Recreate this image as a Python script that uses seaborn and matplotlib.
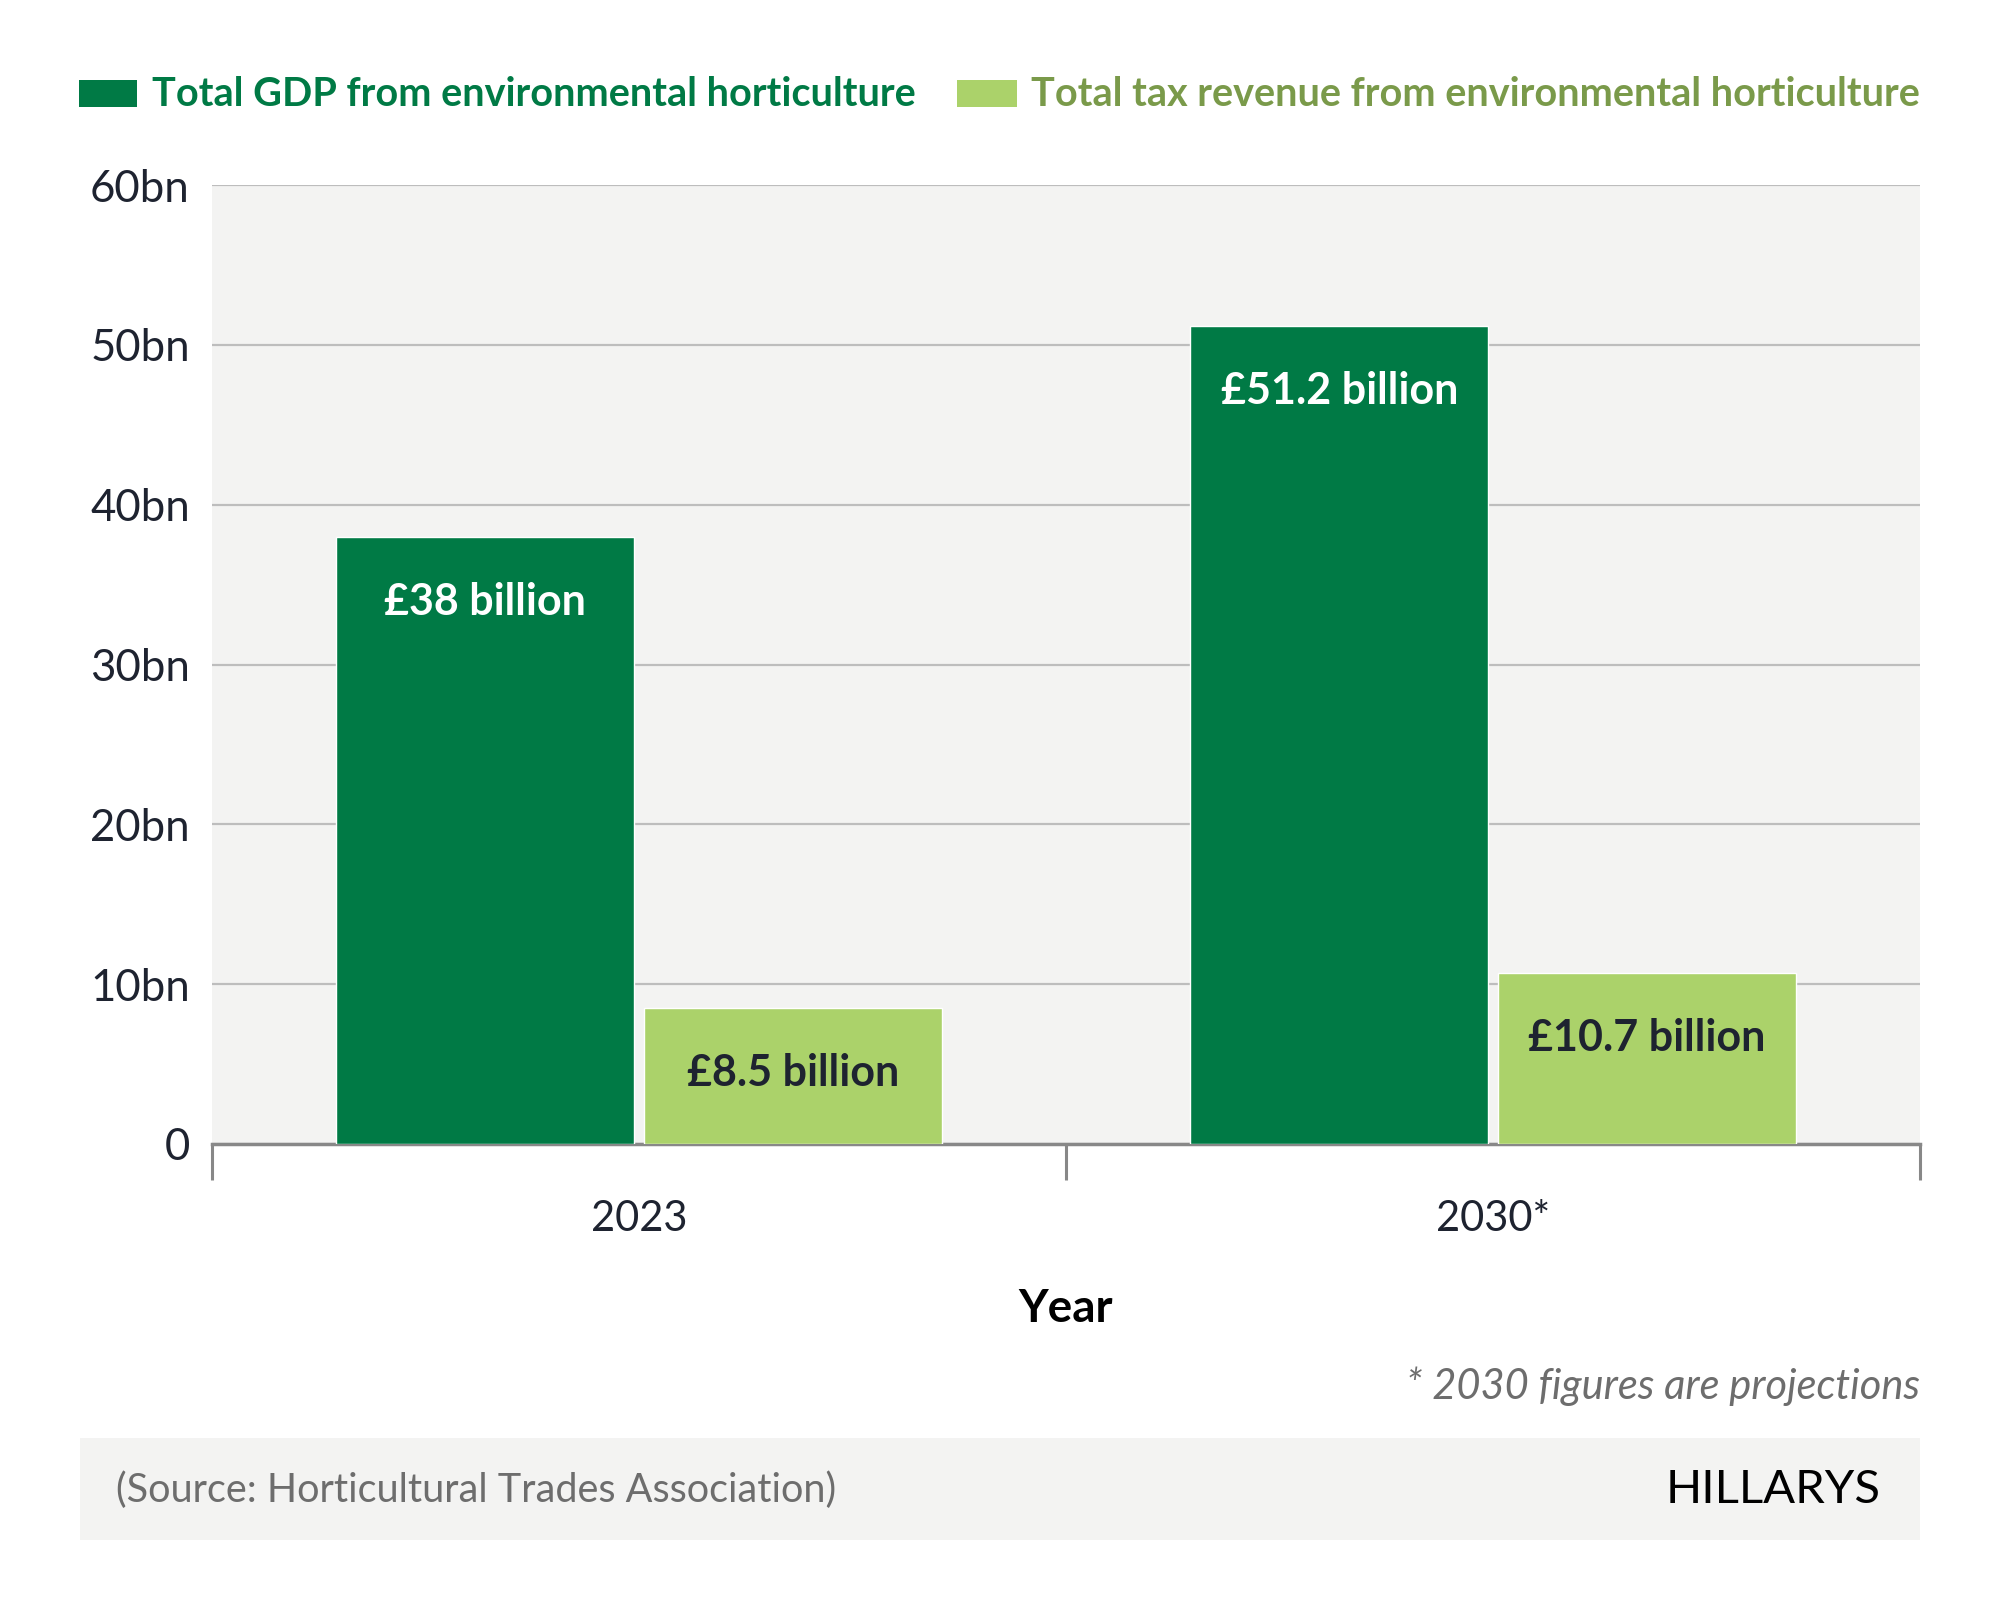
import matplotlib
matplotlib.use("Agg")
import matplotlib.pyplot as plt
from matplotlib.patches import Rectangle
import seaborn as sns
import pandas as pd

# ---- data ----
years = ["2023", "2030*"]
series_names = ["Total GDP from environmental horticulture",
                "Total tax revenue from environmental horticulture"]
gdp_values = [38.0, 51.2]
tax_values = [8.5, 10.7]
gdp_labels = ["£38 billion", "£51.2 billion"]
tax_labels = ["£8.5 billion", "£10.7 billion"]
y_ticks = [0, 10, 20, 30, 40, 50, 60]
y_tick_labels = ["0", "10bn", "20bn", "30bn", "40bn", "50bn", "60bn"]

dark_green = "#007A45"
light_green = "#ABD26A"
legend_light_text = "#7A9A4A"
text_dark = "#1E2330"
grey_text = "#6D6D6D"
panel_bg = "#F3F3F2"

df = pd.DataFrame({
    "Year": years * 2,
    "Value": gdp_values + tax_values,
    "Series": [series_names[0]] * len(years) + [series_names[1]] * len(years),
})

sns.set_theme(style="white")
plt.rcParams["font.family"] = ["Lato", "DejaVu Sans"]

W, H = 2000, 1620
fig = plt.figure(figsize=(W / 100, H / 100), dpi=100)
fig.patch.set_facecolor("white")

def fx(px):
    return px / W

def fy(py):
    return 1 - py / H

ax = fig.add_axes([fx(212), fy(1144), fx(1920) - fx(212), fy(185) - fy(1144)])
ax.set_facecolor(panel_bg)

sns.barplot(data=df, x="Year", y="Value", hue="Series", order=years,
            hue_order=series_names, palette=[dark_green, light_green],
            width=0.72, gap=0.03, saturation=1, legend=False, ax=ax, zorder=3)

ax.set_ylim(0, 60)
ax.set_xlim(-0.5, 1.5)
ax.set_yticks(y_ticks)
ax.set_yticklabels(y_tick_labels)
ax.yaxis.grid(True, color="#BDBDBD", linewidth=1.6, zorder=0)
ax.set_axisbelow(True)
ax.tick_params(axis="y", length=0, pad=16, labelsize=31.5, labelcolor=text_dark)

# x ticks at category boundaries
ax.set_xticks([0, 1])
ax.set_xticklabels(years)
ax.tick_params(axis="x", which="major", bottom=True, length=0, pad=40,
               labelsize=30, labelcolor=text_dark)
ax.set_xticks([-0.5, 0.5, 1.5], minor=True)
ax.tick_params(axis="x", which="minor", bottom=True, length=26, width=2.2,
               color="#888888", direction="out")

for s in ["left", "right", "top"]:
    ax.spines[s].set_visible(False)
ax.spines["bottom"].set_color("#888888")
ax.spines["bottom"].set_linewidth(2.5)

ax.set_ylabel("")
ax.set_xlabel("Year", fontsize=33, fontweight="bold", color="black", labelpad=36)

# value labels inside bars
label_sets = [(gdp_labels, "white"), (tax_labels, text_dark)]
for container, (labels, col) in zip(ax.containers, label_sets):
    for patch, lab in zip(container.patches, labels):
        xc = patch.get_x() + patch.get_width() / 2
        ax.annotate(lab, (xc, patch.get_height()), xytext=(0, -47),
                    textcoords="offset points", ha="center", va="center",
                    fontsize=31, fontweight="bold", color=col, zorder=5)

# legend (manual)
fig.patches.append(Rectangle((fx(79), fy(107)), fx(137) - fx(79), fy(80) - fy(107),
                             transform=fig.transFigure, facecolor=dark_green, edgecolor="none"))
fig.text(fx(152), fy(94), series_names[0], fontsize=28.5, fontweight="bold",
         color=dark_green, ha="left", va="center")
fig.patches.append(Rectangle((fx(957), fy(107)), fx(1017) - fx(957), fy(80) - fy(107),
                             transform=fig.transFigure, facecolor=light_green, edgecolor="none"))
fig.text(fx(1031), fy(94), series_names[1], fontsize=28.5, fontweight="bold",
         color=legend_light_text, ha="left", va="center")

# footnote
fig.text(fx(1920), fy(1386), "* 2030 figures are projections", fontsize=30,
         fontstyle="italic", color=grey_text, ha="right", va="center")

# footer panel
fig.patches.append(Rectangle((fx(80), fy(1540)), fx(1920) - fx(80), fy(1438) - fy(1540),
                             transform=fig.transFigure, facecolor=panel_bg, edgecolor="none"))
fig.text(fx(116), fy(1490), "(Source: Horticultural Trades Association)", fontsize=28.5,
         color=grey_text, ha="left", va="center")
fig.text(fx(1881), fy(1490), "HILLARYS", fontsize=34, fontweight="normal",
         color="black", ha="right", va="center")

fig.savefig("out.png", dpi=100, facecolor="white")
